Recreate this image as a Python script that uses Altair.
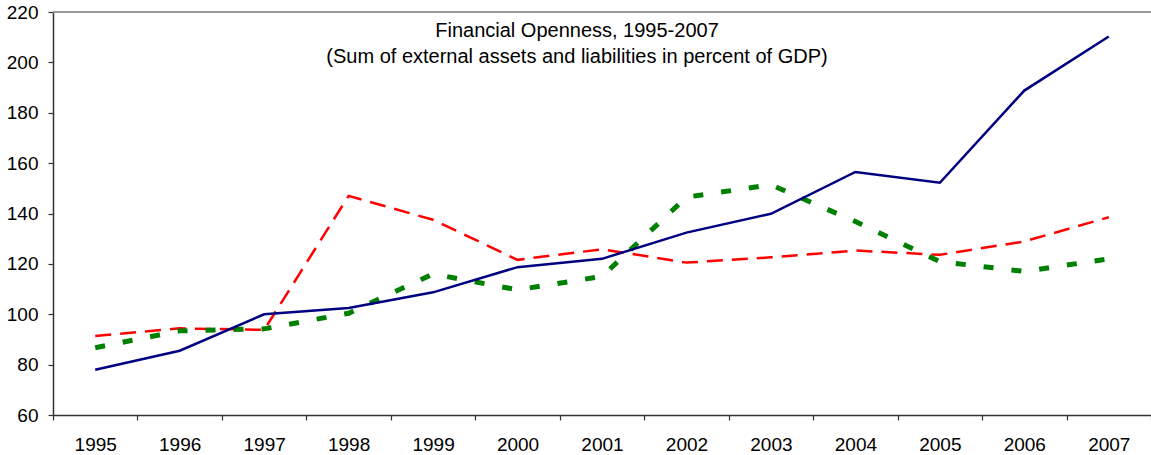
import altair as alt
import pandas as pd

# Years on the category axis
years = [str(y) for y in range(1995, 2008)]

# Financial openness, sum of external assets and liabilities (% of GDP)
solid_series = [78, 85.5, 100, 102.5, 108.7, 118.7, 122, 132.4, 139.9, 156.5, 152.2, 188.8, 210.3]
dashed_series = [91.4, 94.4, 93.8, 147, 137.5, 121.6, 125.8, 120.5, 122.6, 125.3, 123.6, 128.9, 138.5]
dotted_series = [86.7, 93.4, 94.2, 100.4, 116, 109.7, 115, 146.5, 151.4, 136.8, 120.9, 117, 122]

title_lines = [
    "Financial Openness, 1995-2007",
    "(Sum of external assets and liabilities in percent of GDP)",
]

y_ticks = list(range(60, 221, 20))

FONT = "Liberation Sans"
W, H = 1098, 403

df = pd.DataFrame({
    "year": years * 3,
    "value": solid_series + dashed_series + dotted_series,
    "series": ["solid"] * 13 + ["dashed"] * 13 + ["dotted"] * 13,
})

x_enc = alt.X(
    "year:N",
    sort=years,
    scale=alt.Scale(type="band", paddingInner=0, paddingOuter=0),
    axis=alt.Axis(
        title=None,
        labelAngle=0,
        labelFontSize=19,
        labelFont=FONT,
        labelColor="#000000",
        labelPadding=15.5,
        tickBand="extent",
        tickSize=5,
        tickColor="#333333",
        domainColor="#333333",
        domainWidth=1.5,
        tickWidth=1.2,
        grid=False,
    ),
)
y_enc = alt.Y(
    "value:Q",
    scale=alt.Scale(domain=[60, 220], nice=False, zero=False),
    axis=alt.Axis(
        title=None,
        values=y_ticks,
        labelFontSize=19,
        labelFont=FONT,
        labelColor="#000000",
        labelPadding=10,
        tickSize=5,
        tickColor="#333333",
        domainColor="#333333",
        domainWidth=1.5,
        tickWidth=1.2,
        grid=False,
    ),
)

base = alt.Chart(df)

dashed = base.transform_filter(alt.datum.series == "dashed").mark_line(
    color="#ff0000", strokeWidth=2.5, strokeDash=[16, 9], strokeCap="butt"
).encode(x=x_enc, y=y_enc)

dotted = base.transform_filter(alt.datum.series == "dotted").mark_line(
    color="#008000", strokeWidth=5, strokeDash=[10, 18], strokeCap="butt"
).encode(x=x_enc, y=y_enc)

solid = base.transform_filter(alt.datum.series == "solid").mark_line(
    color="#000080", strokeWidth=2.5
).encode(x=x_enc, y=y_enc)

# Top frame line of the plot area
top_rule = alt.Chart(pd.DataFrame({"k": [0]})).mark_rule(
    color="#999999", strokeWidth=2
).encode(x=alt.value(0), x2=alt.value(W), y=alt.value(0))

title = alt.Chart(pd.DataFrame({"k": [0]})).mark_text(
    font=FONT, fontSize=20, color="#000000", align="center",
    baseline="alphabetic", lineHeight=26,
).encode(
    x=alt.value(524), y=alt.value(24.7), text=alt.value(title_lines)
)

chart = alt.layer(top_rule, dashed, dotted, solid, title).properties(
    width=W,
    height=H,
    padding={"left": 53, "top": 12, "right": 0, "bottom": 40},
    autosize=alt.AutoSizeParams(type="none"),
    background="#ffffff",
).configure_view(stroke=None)

chart.save("out.html", embed_options={"renderer": "svg", "actions": False})
